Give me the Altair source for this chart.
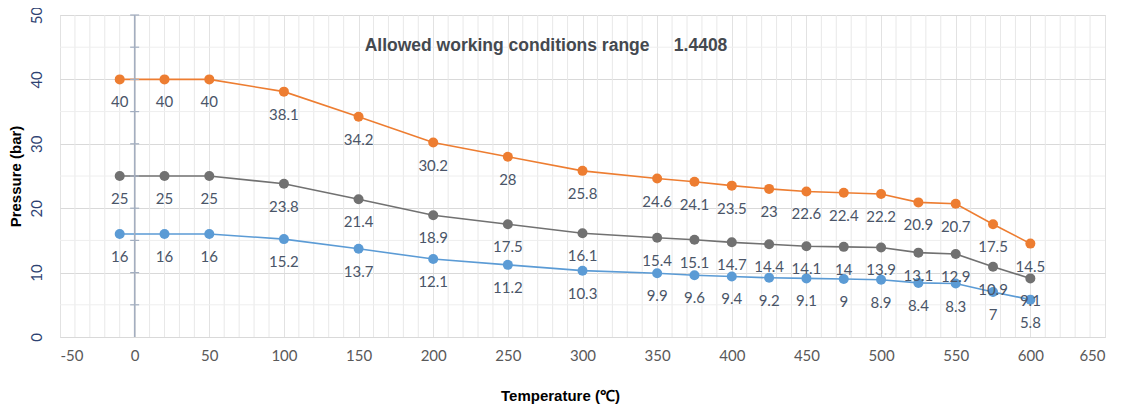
import altair as alt
import pandas as pd

temps = [-10, 20, 50, 100, 150, 200, 250, 300, 350, 375, 400, 425, 450, 475, 500, 525, 550, 575, 600]
orange_vals = [40, 40, 40, 38.1, 34.2, 30.2, 28, 25.8, 24.6, 24.1, 23.5, 23, 22.6, 22.4, 22.2, 20.9, 20.7, 17.5, 14.5]
gray_vals = [25, 25, 25, 23.8, 21.4, 18.9, 17.5, 16.1, 15.4, 15.1, 14.7, 14.4, 14.1, 14, 13.9, 13.1, 12.9, 10.9, 9.1]
blue_vals = [16, 16, 16, 15.2, 13.7, 12.1, 11.2, 10.3, 9.9, 9.6, 9.4, 9.2, 9.1, 9, 8.9, 8.4, 8.3, 7, 5.8]
series_names = ["A", "B", "C"]
series_colors = ["#ED7D31", "#717171", "#5B9BD5"]
x_major = list(range(-50, 651, 50))
x_minor = [v for v in range(-50, 651, 10) if v % 50 != 0]
y_major = list(range(0, 51, 10))
y_minor = list(range(5, 51, 10))
axis_ticks = list(range(5, 51, 5))
title_text = ["Allowed working conditions range \u00a0\u00a0\u00a0\u00a01.4408"]

rows = []
for name, vals in zip(series_names, [orange_vals, gray_vals, blue_vals]):
    for t, v in zip(temps, vals):
        rows.append({"T": t, "P": v, "s": name, "lab": f"{v:g}"})
df = pd.DataFrame(rows)

xs = alt.Scale(domain=[-50, 650], nice=False, zero=False)
ys = alt.Scale(domain=[0, 50], nice=False)
color = alt.Color("s:N", scale=alt.Scale(domain=series_names, range=series_colors), legend=None)

x_axis = alt.Axis(
    values=x_major, labelOverlap=False,
    labelExpr="replace(datum.label, '\u2212', '-')",
    grid=True, gridColor="#e2e2e2", gridWidth=1,
    ticks=False, domain=False,
    labelColor="#595959", labelFont="Lato", labelFontSize=15, labelPadding=11,
    title="Temperature (℃)", titleFont="Liberation Sans", titleFontSize=15,
    titleFontWeight="bold", titleColor="#000000", titlePadding=25, titleX=500,
)
y_axis = alt.Axis(
    values=y_major, labelOverlap=False,
    labelAngle=270, labelAlign="center", labelBaseline="bottom",
    grid=True, gridColor="#d9d9d9",
    ticks=False, domain=False,
    labelColor="#2E4272", labelFont="Lato", labelFontSize=15, labelPadding=16,
    title="Pressure (bar)", titleFont="Liberation Sans", titleFontSize=15,
    titleFontWeight="bold", titleColor="#000000", titlePadding=6,
)

xminor_df = pd.DataFrame({"x": x_minor})
xgrid = alt.Chart(xminor_df).mark_rule(color="#e8e8e8", strokeWidth=1).encode(
    x=alt.X("x:Q", scale=xs, axis=x_axis)
)
yminor_df = pd.DataFrame({"y": y_minor})
ygrid = alt.Chart(yminor_df).mark_rule(color="#eeeeee", strokeWidth=1).encode(
    y=alt.Y("y:Q", scale=ys, axis=y_axis)
)

base = alt.Chart(df)
lines = base.mark_line(strokeWidth=1.6).encode(
    x=alt.X("T:Q", scale=xs, axis=x_axis), y=alt.Y("P:Q", scale=ys, axis=y_axis), color=color, detail="s:N"
)
points = base.mark_circle(size=100, opacity=1).encode(
    x=alt.X("T:Q", scale=xs, axis=x_axis), y=alt.Y("P:Q", scale=ys, axis=y_axis), color=color
)
labels = base.mark_text(font="Lato", fontSize=15, color="#4A5568", dy=23, baseline="middle").encode(
    x=alt.X("T:Q", scale=xs, axis=x_axis), y=alt.Y("P:Q", scale=ys, axis=y_axis), text="lab:N"
)

axis_df = pd.DataFrame({"x": [0], "y0": [0], "y1": [50]})
vline = alt.Chart(axis_df).mark_rule(color="#A3AEC0", strokeWidth=1.5).encode(
    x=alt.X("x:Q", scale=xs, axis=x_axis), y=alt.Y("y0:Q", scale=ys, axis=y_axis), y2="y1:Q"
)
tick_df = pd.DataFrame({"y": axis_ticks, "xa": [-3] * len(axis_ticks), "xb": [3] * len(axis_ticks)})
vticks = alt.Chart(tick_df).mark_rule(color="#A3AEC0", strokeWidth=1.2).encode(
    x=alt.X("xa:Q", scale=xs, axis=x_axis), x2="xb:Q", y=alt.Y("y:Q", scale=ys, axis=y_axis)
)

note_df = pd.DataFrame({"t": title_text})
note = alt.Chart(note_df).mark_text(
    font="Liberation Sans", fontSize=17.5, fontWeight="bold", color="#44494F",
    align="center", baseline="middle",
).encode(x=alt.value(486), y=alt.value(31), text="t:N")

chart = alt.layer(xgrid, ygrid, lines, vline, vticks, points, labels, note).properties(
    width=1045, height=322,
    autosize=alt.AutoSizeParams(type="none"),
    padding={"left": 52, "top": 7, "right": 8, "bottom": 68},
).configure_view(stroke=None).configure(background="white")

chart.save("out.html", embed_options={"renderer": "svg", "actions": False})
